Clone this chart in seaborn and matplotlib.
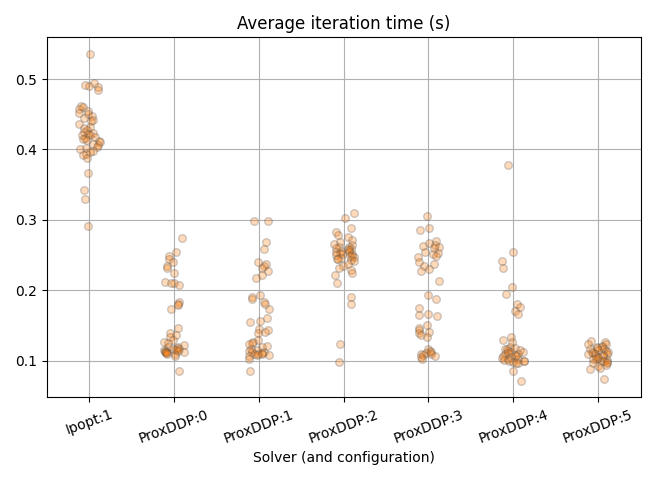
import numpy as np
import pandas as pd
import matplotlib
matplotlib.use("Agg")
import matplotlib.pyplot as plt
import seaborn as sns

# average iteration time per run
ipopt_1 = [0.536, 0.495, 0.492, 0.490, 0.489, 0.484, 0.462, 0.460, 0.458, 0.455,
           0.452, 0.450, 0.447, 0.445, 0.442, 0.440, 0.436, 0.432, 0.430, 0.428,
           0.425, 0.424, 0.422, 0.421, 0.420, 0.418, 0.416, 0.415, 0.413, 0.412,
           0.410, 0.408, 0.406, 0.404, 0.402, 0.400, 0.398, 0.396, 0.394, 0.392,
           0.388, 0.366, 0.342, 0.330, 0.291]
proxddp_0 = [0.274, 0.254, 0.249, 0.245, 0.240, 0.235, 0.231, 0.224, 0.212, 0.211,
             0.210, 0.208, 0.184, 0.181, 0.179, 0.173, 0.147, 0.140, 0.136, 0.133,
             0.130, 0.127, 0.125, 0.122, 0.120, 0.119, 0.118, 0.117, 0.116, 0.115,
             0.115, 0.114, 0.113, 0.113, 0.112, 0.111, 0.110, 0.110, 0.112, 0.114,
             0.107, 0.085]
proxddp_1 = [0.299, 0.298, 0.269, 0.258, 0.240, 0.237, 0.235, 0.232, 0.227, 0.222,
             0.217, 0.193, 0.190, 0.187, 0.184, 0.180, 0.173, 0.160, 0.157, 0.155,
             0.145, 0.143, 0.141, 0.140, 0.130, 0.127, 0.125, 0.123, 0.121, 0.120,
             0.116, 0.115, 0.114, 0.113, 0.112, 0.111, 0.110, 0.110, 0.109, 0.108,
             0.108, 0.107, 0.103, 0.085]
proxddp_2 = [0.310, 0.303, 0.288, 0.283, 0.278, 0.275, 0.272, 0.268, 0.266, 0.264,
             0.262, 0.261, 0.260, 0.259, 0.258, 0.257, 0.256, 0.255, 0.254, 0.253,
             0.252, 0.251, 0.250, 0.249, 0.248, 0.247, 0.246, 0.245, 0.244, 0.243,
             0.242, 0.238, 0.235, 0.232, 0.229, 0.225, 0.222, 0.211, 0.190, 0.181,
             0.123, 0.098]
proxddp_3 = [0.305, 0.288, 0.286, 0.270, 0.267, 0.265, 0.263, 0.261, 0.260, 0.255,
             0.253, 0.251, 0.249, 0.247, 0.240, 0.237, 0.234, 0.230, 0.227, 0.213,
             0.193, 0.188, 0.175, 0.166, 0.165, 0.164, 0.150, 0.147, 0.144, 0.141,
             0.139, 0.136, 0.134, 0.116, 0.114, 0.112, 0.111, 0.110, 0.109, 0.108,
             0.106, 0.105, 0.103]
proxddp_4 = [0.378, 0.254, 0.242, 0.231, 0.205, 0.195, 0.180, 0.176, 0.170, 0.166,
             0.134, 0.130, 0.126, 0.120, 0.118, 0.117, 0.116, 0.115, 0.114, 0.113,
             0.112, 0.111, 0.110, 0.109, 0.108, 0.107, 0.106, 0.105, 0.104, 0.103,
             0.102, 0.101, 0.100, 0.100, 0.099, 0.098, 0.097, 0.096, 0.085, 0.071]
proxddp_5 = [0.128, 0.126, 0.124, 0.123, 0.121, 0.120, 0.119, 0.118, 0.117, 0.116,
             0.115, 0.114, 0.113, 0.112, 0.111, 0.110, 0.110, 0.109, 0.108, 0.107,
             0.106, 0.105, 0.104, 0.103, 0.102, 0.101, 0.100, 0.099, 0.098, 0.097,
             0.096, 0.094, 0.092, 0.090, 0.088, 0.074]

solvers = ["Ipopt:1", "ProxDDP:0", "ProxDDP:1", "ProxDDP:2",
           "ProxDDP:3", "ProxDDP:4", "ProxDDP:5"]
times = [ipopt_1, proxddp_0, proxddp_1, proxddp_2, proxddp_3, proxddp_4, proxddp_5]

rows = []
for name, vals in zip(solvers, times):
    for v in vals:
        rows.append((name, v))
df = pd.DataFrame(rows, columns=["solver", "time"])

np.random.seed(3)
fig, ax = plt.subplots(figsize=(6.56, 4.8), dpi=100)
sns.stripplot(data=df, x="solver", y="time", order=solvers, color="C1",
              alpha=0.28, edgecolor="gray", linewidth=1, size=5.5, jitter=0.13, ax=ax)
ax.grid(True)
ax.set_axisbelow(True)
ax.set_title("Average iteration time (s)")
ax.set_xlabel("Solver (and configuration)")
ax.set_ylabel("")
plt.xticks(rotation=20)
plt.tight_layout()
plt.savefig("out.png")
